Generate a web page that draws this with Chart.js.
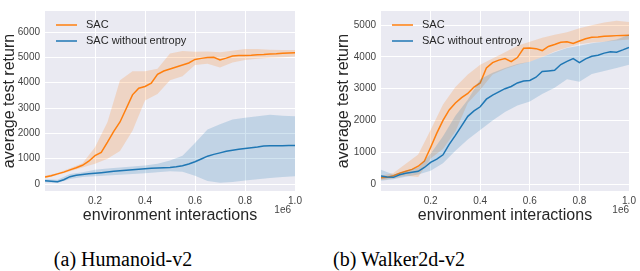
<!DOCTYPE html>
<html>
<head>
<meta charset="utf-8">
<script src="https://cdn.jsdelivr.net/npm/chart.js@4.4.1/dist/chart.umd.min.js"></script>
<style>
  html, body { margin: 0; padding: 0; background: #ffffff; }
  #wrap { position: relative; width: 640px; height: 271px; overflow: hidden; background: #fff; }
  canvas { position: absolute; top: 0; }
  #c1 { left: 0; }
  #c2 { left: 320px; }
  .cap { position: absolute; top: 247px; width: 200px; text-align: center;
         font-family: "Liberation Serif", "Times New Roman", serif; font-size: 20px; line-height: 24px; color: #000; }
</style>
</head>
<body>
<div id="wrap">
  <canvas id="c1" width="320" height="230"></canvas>
  <canvas id="c2" width="320" height="230"></canvas>
  <div class="cap" style="left:23px">(a) Humanoid-v2</div>
  <div class="cap" style="left:299px">(b) Walker2d-v2</div>
</div>
<script>
// ---------- data (x in units of 1e6 environment interactions) ----------
const SERIES_LABELS = ["SAC", "SAC without entropy"];
const X_TICKS = [0.2, 0.4, 0.6, 0.8, 1.0];

const X_MEAN = [0, 0.025, 0.05, 0.075, 0.1, 0.125, 0.15, 0.175, 0.2, 0.225, 0.25, 0.275, 0.3, 0.325, 0.35, 0.375,
  0.4, 0.425, 0.45, 0.475, 0.5, 0.525, 0.55, 0.575, 0.6, 0.625, 0.65, 0.675, 0.7, 0.725, 0.75, 0.775,
  0.8, 0.825, 0.85, 0.875, 0.9, 0.925, 0.95, 0.975, 1.0];
const X_BAND = [0, 0.05, 0.1, 0.15, 0.2, 0.25, 0.3, 0.35, 0.4, 0.45, 0.5, 0.55, 0.6, 0.65, 0.7, 0.75, 0.8, 0.85, 0.9, 0.95, 1.0];

// (a) Humanoid-v2
const HUM_Y_TICKS = [0, 1000, 2000, 3000, 4000, 5000, 6000];
const HUM_SAC_MEAN = [280, 330, 400, 470, 560, 640, 740, 900, 1120, 1250, 1650, 2080, 2450, 2980, 3520, 3780,
  3850, 3980, 4330, 4460, 4540, 4620, 4700, 4780, 4920, 4960, 4990, 5000, 4900, 4970, 5050, 5070,
  5070, 5080, 5100, 5110, 5130, 5140, 5160, 5170, 5180];
const HUM_SAC_UPPER = [330, 440, 620, 820, 1450, 2450, 4100, 4450, 4450, 4550, 5150, 5250, 5220, 5230, 5200, 5260, 5330, 5330, 5300, 5290, 5290];
const HUM_SAC_LOWER = [230, 360, 500, 650, 800, 1000, 1300, 2100, 3300, 3550, 4100, 4250, 4700, 4750, 4600, 4800, 4900, 4950, 4980, 5000, 5030];
const HUM_NOENT_MEAN = [130, 110, 95, 170, 290, 350, 380, 410, 430, 450, 475, 500, 520, 545, 565, 585,
  605, 620, 630, 640, 650, 680, 720, 790, 880, 990, 1100, 1170, 1230, 1290, 1330, 1370,
  1400, 1430, 1460, 1500, 1515, 1515, 1515, 1520, 1520];
const HUM_NOENT_UPPER = [190, 170, 400, 470, 560, 610, 650, 690, 730, 800, 930, 1119, 1616, 2150, 2362, 2548, 2620, 2672, 2734, 2700, 2672];
const HUM_NOENT_LOWER = [70, 40, 200, 280, 310, 340, 370, 400, 430, 470, 500, 480, 330, 120, 50, 80, 140, 190, 240, 280, 310];

// (b) Walker2d-v2
const WAL_Y_TICKS = [0, 1000, 2000, 3000, 4000, 5000];
const WAL_SAC_MEAN = [200, 210, 260, 340, 400, 460, 560, 720, 1150, 1600, 2000, 2330, 2550, 2720, 2850, 3050,
  3180, 3650, 3820, 3900, 3950, 3850, 3980, 4270, 4280, 4260, 4200, 4330, 4390, 4460, 4480, 4420,
  4500, 4570, 4620, 4630, 4650, 4660, 4670, 4675, 4680];
const WAL_SAC_UPPER = [260, 350, 640, 930, 1700, 2500, 3050, 3450, 3750, 3950, 4150, 4350, 4480, 4600, 4700, 4780, 4900, 5000, 5080, 5140, 5100];
const WAL_SAC_LOWER = [130, 170, 260, 220, 800, 1100, 1650, 2550, 2970, 3450, 3620, 3750, 3850, 4000, 4170, 4300, 4400, 4450, 4480, 4520, 4550];
const WAL_NOENT_MEAN = [250, 220, 210, 290, 340, 370, 400, 520, 680, 780, 920, 1250, 1530, 1830, 2130, 2300,
  2430, 2670, 2800, 2900, 3000, 3070, 3180, 3240, 3260, 3360, 3540, 3560, 3580, 3760, 3860, 3950,
  3820, 3940, 4020, 4050, 4120, 4160, 4150, 4220, 4300];
const WAL_NOENT_UPPER = [450, 300, 420, 520, 950, 1500, 2150, 2650, 3300, 3500, 3650, 3780, 3850, 4000, 4150, 4280, 4350, 4430, 4480, 4550, 4700];
const WAL_NOENT_LOWER = [100, 150, 230, 300, 420, 650, 1050, 1400, 1700, 2000, 2270, 2470, 2600, 2830, 3030, 3300, 3220, 3460, 3560, 3650, 3750];

// ---------- styling ----------
const ORANGE = '#ff7f0e', BLUE = '#1f77b4';
const ORANGE_FILL = 'rgba(255,127,14,0.2)', BLUE_FILL = 'rgba(31,119,180,0.2)';
const BG = '#eaeaf2';
const SANS = '"Liberation Sans", Arial, sans-serif';

function pts(xs, ys) { return xs.map((x, i) => ({ x: x, y: ys[i] })); }

function makeDatasets(sacMean, sacUp, sacLo, neMean, neUp, neLo) {
  const band = (data, color, fill, order) => ({ data, borderWidth: 0, pointRadius: 0, backgroundColor: color,
    borderColor: 'rgba(0,0,0,0)', fill, order, tension: 0 });
  const line = (label, data, color, order) => ({ label, data, borderColor: color, backgroundColor: color,
    borderWidth: 1.5, pointRadius: 0, fill: false, order, tension: 0 });
  return [
    band(pts(X_BAND, sacUp), ORANGE_FILL, '+1', 6),
    band(pts(X_BAND, sacLo), ORANGE_FILL, false, 5),
    line(SERIES_LABELS[0], pts(X_MEAN, sacMean), ORANGE, 4),
    band(pts(X_BAND, neUp), BLUE_FILL, '+1', 3),
    band(pts(X_BAND, neLo), BLUE_FILL, false, 2),
    line(SERIES_LABELS[1], pts(X_MEAN, neMean), BLUE, 1)
  ];
}

const bgPlugin = {
  id: 'bgPlot',
  beforeDraw(chart) {
    const a = chart.chartArea, ctx = chart.ctx;
    ctx.save(); ctx.fillStyle = BG;
    ctx.fillRect(a.left, a.top, a.right - a.left, a.bottom - a.top);
    ctx.restore();
  }
};

const legendPlugin = {
  id: 'inLegend',
  afterDatasetsDraw(chart, args, opts) {
    const a = chart.chartArea, ctx = chart.ctx;
    ctx.save();
    ctx.font = '11px ' + SANS;
    ctx.textBaseline = 'middle';
    let row = 0;
    chart.data.datasets.forEach(ds => {
      if (!ds.label) return;
      const y = a.top + opts.y0 + row * opts.dy;
      ctx.strokeStyle = ds.borderColor; ctx.lineWidth = 1.5;
      ctx.beginPath(); ctx.moveTo(a.left + opts.x0, y); ctx.lineTo(a.left + opts.x1, y); ctx.stroke();
      ctx.fillStyle = '#262626';
      ctx.fillText(ds.label, a.left + opts.tx, y);
      row++;
    });
    ctx.restore();
  }
};

const offsetPlugin = {
  id: 'offsetText',
  afterDraw(chart, args, opts) {
    const a = chart.chartArea, ctx = chart.ctx;
    ctx.save();
    ctx.font = '10px ' + SANS; ctx.fillStyle = '#444';
    ctx.textAlign = 'right'; ctx.textBaseline = 'middle';
    ctx.fillText(opts.text, a.right + opts.dx, opts.y);
    ctx.restore();
  }
};

function makeChart(id, datasets, yTicks, yMin, yMax, yAxisWidth, yTitlePad, rightPad, offDx) {
  return new Chart(document.getElementById(id), {
    type: 'line',
    data: { datasets },
    plugins: [bgPlugin, legendPlugin, offsetPlugin],
    options: {
      responsive: false, animation: false, devicePixelRatio: 1,
      layout: { padding: { left: 0, right: rightPad, top: 0, bottom: 0 } },
      plugins: {
        legend: { display: false }, tooltip: { enabled: false },
        inLegend: { x0: 11, x1: 32, tx: 41, y0: 14, dy: 16 },
        offsetText: { text: '1e6', dx: offDx, y: 210 }
      },
      scales: {
        x: {
          type: 'linear', min: 0, max: 1.0,
          afterBuildTicks: s => { s.ticks = X_TICKS.map(v => ({ value: v })); },
          afterFit: s => { s.height = 39; },
          border: { display: false },
          grid: { color: '#ffffff', lineWidth: 1, drawTicks: false },
          ticks: { padding: 4, color: '#444', font: { family: SANS, size: 10 }, maxRotation: 0,
                   callback: v => Number(v).toFixed(1) },
          title: { display: true, text: 'environment interactions', color: '#262626',
                   font: { family: SANS, size: 16, lineHeight: 1.2 }, padding: { top: 0, bottom: 5 } }
        },
        y: {
          type: 'linear', min: yMin, max: yMax,
          afterBuildTicks: s => { s.ticks = yTicks.map(v => ({ value: v })); },
          afterFit: s => { s.width = yAxisWidth; },
          border: { display: false },
          grid: { color: '#ffffff', lineWidth: 1, drawTicks: false },
          ticks: { padding: 5, color: '#444', font: { family: SANS, size: 10 }, callback: v => String(v) },
          title: { display: true, text: 'average test return', color: '#262626',
                   font: { family: SANS, size: 16, lineHeight: 1.2 }, padding: { top: yTitlePad, bottom: 0 } }
        }
      }
    }
  });
}

makeChart('c1', makeDatasets(HUM_SAC_MEAN, HUM_SAC_UPPER, HUM_SAC_LOWER, HUM_NOENT_MEAN, HUM_NOENT_UPPER, HUM_NOENT_LOWER),
  HUM_Y_TICKS, -275, 6830, 45, 0.4, 25, -4);
makeChart('c2', makeDatasets(WAL_SAC_MEAN, WAL_SAC_UPPER, WAL_SAC_LOWER, WAL_NOENT_MEAN, WAL_NOENT_UPPER, WAL_NOENT_LOWER),
  WAL_Y_TICKS, -220, 5445, 61, 14, 11, 0);
</script>
</body>
</html>
